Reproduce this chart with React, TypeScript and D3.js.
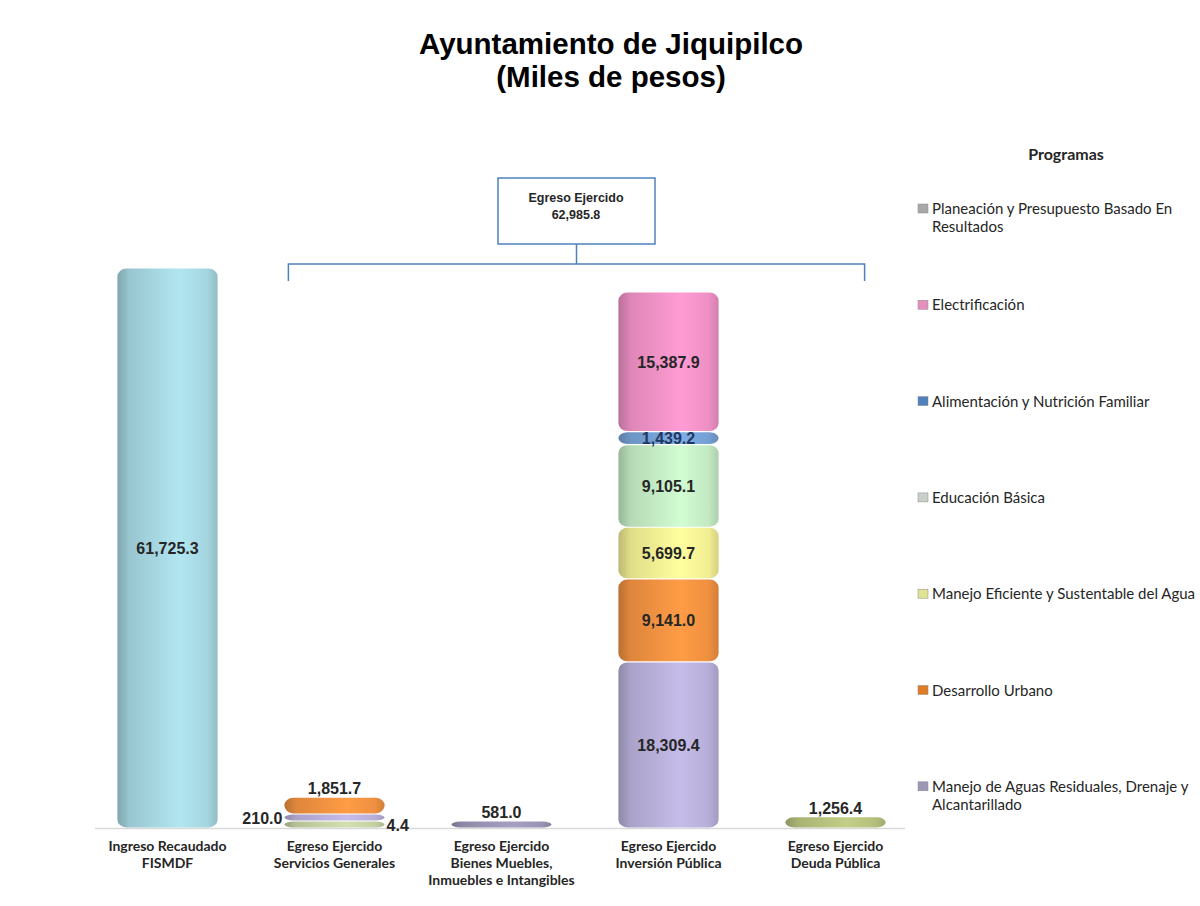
import * as d3 from "d3";

// categories along the x axis (label lines)
const categories = ["Ingreso FISMDF", "Servicios Generales", "Bienes Muebles", "Inversión Pública", "Deuda Pública"];
const categoryLines = [
    ["Ingreso Recaudado", "FISMDF"],
    ["Egreso Ejercido", "Servicios Generales"],
    ["Egreso Ejercido", "Bienes Muebles,", "Inmuebles e Intangibles"],
    ["Egreso Ejercido", "Inversión Pública"],
    ["Egreso Ejercido", "Deuda Pública"],
];

// series values, one per category (stack order: bottom -> top)
const ingresoRecaudado = [61725.3, 0, 0, 0, 0];
const planeacion = [0, 4.4, 0, 0, 0];
const deudaPublica = [0, 0, 0, 0, 1256.4];
const bienesMuebles = [0, 0, 581.0, 0, 0];
const aguasResiduales = [0, 210.0, 0, 18309.4, 0];
const desarrolloUrbano = [0, 1851.7, 0, 9141.0, 0];
const aguaEficiente = [0, 0, 0, 5699.7, 0];
const educacionBasica = [0, 0, 0, 9105.1, 0];
const alimentacion = [0, 0, 0, 1439.2, 0];
const electrificacion = [0, 0, 0, 15387.9, 0];

// legend entries, top -> bottom
const legendPrograms = [
    ["Planeación y Presupuesto Basado En", "Resultados"],
    ["Electrificación"],
    ["Alimentación y Nutrición Familiar"],
    ["Educación Básica"],
    ["Manejo Eficiente y Sustentable del Agua"],
    ["Desarrollo Urbano"],
    ["Manejo de Aguas Residuales, Drenaje y", "Alcantarillado"],
];

const series = [
    {key: "ingreso", values: ingresoRecaudado, color: "#a4d5df"},
    {key: "planeacion", values: planeacion, color: "#c4cfa3", side: "right"},
    {key: "deuda", values: deudaPublica, color: "#b4bf7c"},
    {key: "bienes", values: bienesMuebles, color: "#9a93b3"},
    {key: "aguas", values: aguasResiduales, color: "#b7aed8", side: "left"},
    {key: "urbano", values: desarrolloUrbano, color: "#ee9040"},
    {key: "eficiente", values: aguaEficiente, color: "#f1ed92"},
    {key: "educacion", values: educacionBasica, color: "#c2e9c2"},
    {key: "alimentacion", values: alimentacion, color: "#75a0d4", text: "#1f3864"},
    {key: "electrificacion", values: electrificacion, color: "#ee90c4"},
];
const legendColors = ["#a8a8a8", "#e58fbf", "#4f81bd", "#c9cfc9", "#dfe392", "#e07b26", "#9d97b8"];

const W = 1200, H = 906;
const baseY = 828;
const fmt = d3.format(",.1f");
const numFont = "'Liberation Sans', Arial, sans-serif";
const lblFont = "Lato, 'Open Sans', sans-serif";

function App() {
    const x = d3.scaleBand().domain(categories).range([84, 919]).paddingInner(0.4).paddingOuter(0.2);
    const totals = categories.map((_, i) => d3.sum(series, s => s.values[i]));
    const y = d3.scaleLinear().domain([0, d3.max(totals) as number]).range([baseY, 268]);
    const bw = x.bandwidth();

    const egresoTotal = d3.sum(series.filter(s => s.key !== "ingreso"), s => d3.sum(s.values));

    // build segments, keeping tiny values visible
    const segs: any[] = [];
    categories.forEach((c, i) => {
        let cur = baseY;
        const inBar = series.filter(s => s.values[i] > 0);
        inBar.forEach((s, j) => {
            const v = s.values[i];
            const h = Math.max(y(0) - y(v), 7);
            segs.push({c, i, s, v, y0: cur, y1: cur - h, top: j === inBar.length - 1});
            cur -= h;
        });
    });

    const bx0 = (x("Servicios Generales") as number) + 4;
    const bx1 = (x("Deuda Pública") as number) + bw - 21;
    const bmid = (bx0 + bx1) / 2;

    return (
        <svg width={W} height={H} style={{position: "absolute", left: 0, top: 0, background: "#fff"}}>
            <defs>
                {series.map(s => {
                    const c = d3.color(s.color) as d3.RGBColor;
                    return (
                        <linearGradient key={s.key} id={"g-" + s.key} x1="0" x2="1" y1="0" y2="0">
                            <stop offset="0" stopColor={c.darker(0.7).formatHex()}/>
                            <stop offset="0.12" stopColor={c.darker(0.2).formatHex()}/>
                            <stop offset="0.62" stopColor={c.brighter(0.22).formatHex()}/>
                            <stop offset="0.9" stopColor={c.formatHex()}/>
                            <stop offset="1" stopColor={c.darker(0.35).formatHex()}/>
                        </linearGradient>
                    );
                })}
            </defs>

            <text x={611} y={54} textAnchor="middle" fontFamily={numFont} fontWeight="bold" fontSize={29.5}>Ayuntamiento de Jiquipilco</text>
            <text x={611} y={87} textAnchor="middle" fontFamily={numFont} fontWeight="bold" fontSize={29.5}>(Miles de pesos)</text>

            <line x1={95} x2={905} y1={baseY + 0.5} y2={baseY + 0.5} stroke="#d9d9d9" strokeWidth={1.5}/>

            {segs.map((d, k) => {
                const h = d.y0 - d.y1 - 1.2;
                const ry = Math.min(8, h / 2);
                return (
                    <rect key={k} x={x(d.c)} y={d.y1 + 0.6} width={bw} height={h}
                          rx={9} ry={ry} fill={`url(#g-${d.s.key})`}/>
                );
            })}

            {segs.map((d, k) => {
                const h = d.y0 - d.y1;
                const cx = (x(d.c) as number) + bw / 2;
                const cy = (d.y0 + d.y1) / 2;
                let tx = cx, ty = cy + 6, anchor = "middle";
                if (d.top && h < 30) {
                    ty = d.y1 - 3;
                } else if (h < 12) {
                    ty = cy + 6;
                    if (d.s.side === "left") {
                        tx = (x(d.c) as number) - 2;
                        anchor = "end";
                    } else {
                        tx = (x(d.c) as number) + bw + 2;
                        anchor = "start";
                    }
                }
                return (
                    <text key={k} x={tx} y={ty} textAnchor={anchor} fontFamily={numFont} fontWeight="bold"
                          fontSize={16} fill={d.s.text || "#262626"}>{fmt(d.v)}</text>
                );
            })}

            {categories.map((c, i) => (
                <text key={c} x={(x(c) as number) + bw / 2} y={851} textAnchor="middle" fontFamily={lblFont}
                      fontWeight="bold" fontSize={14} fill="#262626">
                    {categoryLines[i].map((l, j) => <tspan key={j} x={(x(c) as number) + bw / 2} dy={j ? 17 : 0}>{l}</tspan>)}
                </text>
            ))}

            {/* bracket for egreso total */}
            <g stroke="#4f81bd" strokeWidth={1.5} fill="none">
                <rect x={498} y={178} width={157} height={66} fill="#fff"/>
                <line x1={bmid} x2={bmid} y1={244} y2={264}/>
                <path d={`M${bx0},281 V264 H${bx1} V281`}/>
            </g>
            <text x={576} y={202} textAnchor="middle" fontFamily={numFont} fontWeight="bold" fontSize={12.5} fill="#262626">Egreso Ejercido</text>
            <text x={576} y={219} textAnchor="middle" fontFamily={numFont} fontWeight="bold" fontSize={12.5} fill="#262626">{fmt(egresoTotal)}</text>

            {/* legend */}
            <text x={1066} y={160} textAnchor="middle" fontFamily={lblFont} fontWeight="bold" fontSize={16} fill="#262626">Programas</text>
            {legendPrograms.map((p, i) => {
                const ly = 214 + i * 96.3;
                return (
                    <g key={i}>
                        <rect x={918} y={ly - 10} width={10} height={9} fill={legendColors[i]} stroke="#8a8a8a" strokeWidth={0.5}/>
                        <text x={932} y={ly} fontFamily={lblFont} fontSize={15} fill="#262626">
                            {p.map((l, j) => <tspan key={j} x={932} dy={j ? 18 : 0}>{l}</tspan>)}
                        </text>
                    </g>
                );
            })}
        </svg>
    );
}

export default App;
